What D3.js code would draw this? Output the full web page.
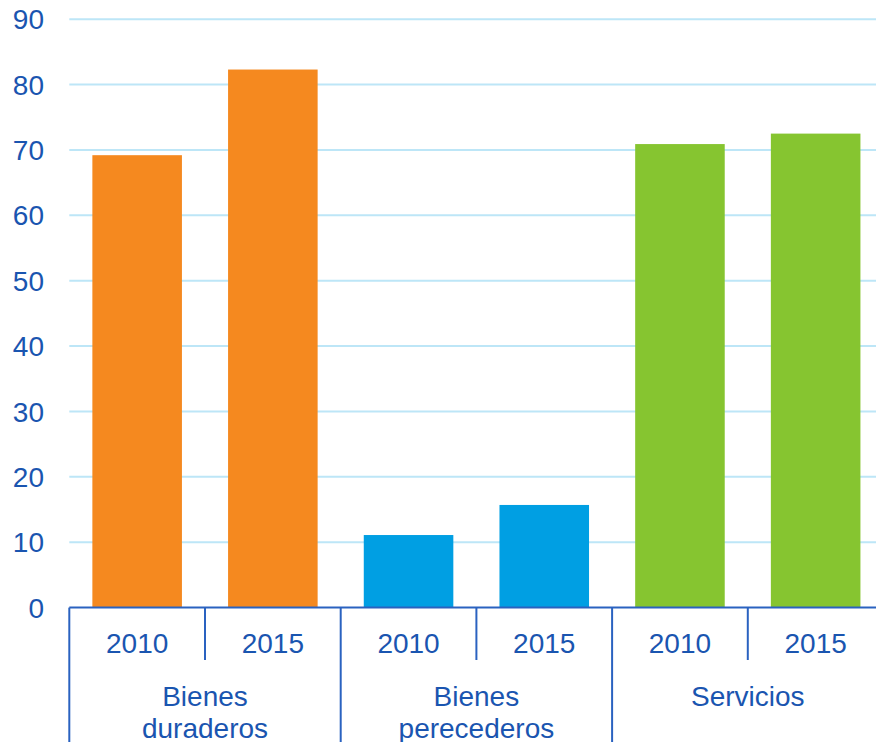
<!DOCTYPE html>
<html>
  <head>
    <meta http-equiv="Content-type" content="text/html; charset=utf-8"/>
    <title>Bar Chart</title>
    <script src="https://d3js.org/d3.v7.min.js"></script>
    <style>
      body{ margin:0; background:#fff; }
      svg{ display:block; font-family: "Liberation Sans", Arial, sans-serif; }
    </style>
  </head>
  <body>
    <svg width="876" height="742"></svg>
    <script>
      // ### Data ###
      var groups = [["Bienes", "duraderos"], ["Bienes", "perecederos"], ["Servicios"]];
      var years = ["2010", "2015"];
      var values = [[69.2, 82.3], [11.1, 15.7], [70.9, 72.5]];
      var colors = ["#f5891f", "#009fe3", "#86c530"];
      var yTicks = [0, 10, 20, 30, 40, 50, 60, 70, 80, 90];

      var svg = d3.select("svg"),
          textColor = "#1a55b0",
          axisColor = "#2a62c0",
          plotLeft = 69.3, plotRight = 883.5, plotTop = 19.2, plotBottom = 607.6;

      var x0 = d3.scaleBand().domain(d3.range(groups.length)).range([plotLeft, plotRight]);
      var x1 = d3.scaleBand().domain(years).range([0, x0.bandwidth()])
          .paddingInner(0.34).paddingOuter(0.17);
      var y = d3.scaleLinear().domain([0, 90]).range([plotBottom, plotTop]);

      // gridlines
      svg.append("g").selectAll("line")
        .data(yTicks.filter(function(d){ return d > 0; }))
        .join("line")
          .attr("x1", plotLeft).attr("x2", 876)
          .attr("y1", function(d){ return y(d); })
          .attr("y2", function(d){ return y(d); })
          .attr("stroke", "#bde6f7")
          .attr("stroke-width", 2);

      // y labels
      svg.append("g").selectAll("text")
        .data(yTicks)
        .join("text")
          .attr("x", 44)
          .attr("y", function(d){ return y(d); })
          .attr("dy", "0.36em")
          .attr("text-anchor", "end")
          .attr("fill", textColor)
          .attr("font-size", 28)
          .text(function(d){ return d; });

      // bars
      var gBars = svg.append("g").selectAll("g")
        .data(values)
        .join("g")
          .attr("transform", function(d, i){ return "translate(" + x0(i) + ",0)"; });

      gBars.selectAll("rect")
        .data(function(d, i){ return d.map(function(v, j){ return {v: v, year: years[j], c: colors[i]}; }); })
        .join("rect")
          .attr("x", function(d){ return x1(d.year); })
          .attr("width", x1.bandwidth())
          .attr("y", function(d){ return y(d.v); })
          .attr("height", function(d){ return y(0) - y(d.v); })
          .attr("fill", function(d){ return d.c; });

      // x axis
      var ax = svg.append("g");
      ax.append("line")
        .attr("x1", plotLeft).attr("x2", 876)
        .attr("y1", plotBottom).attr("y2", plotBottom)
        .attr("stroke", axisColor).attr("stroke-width", 2);

      // group separators (full height)
      ax.selectAll(".sep")
        .data(d3.range(groups.length + 1))
        .join("line")
          .attr("class", "sep")
          .attr("x1", function(i){ return plotLeft + i * x0.bandwidth(); })
          .attr("x2", function(i){ return plotLeft + i * x0.bandwidth(); })
          .attr("y1", plotBottom).attr("y2", 742)
          .attr("stroke", axisColor).attr("stroke-width", 2);

      // year separators (short)
      ax.selectAll(".ysep")
        .data(d3.range(groups.length))
        .join("line")
          .attr("class", "ysep")
          .attr("x1", function(i){ return x0(i) + x0.bandwidth() / 2; })
          .attr("x2", function(i){ return x0(i) + x0.bandwidth() / 2; })
          .attr("y1", plotBottom).attr("y2", 660)
          .attr("stroke", axisColor).attr("stroke-width", 2);

      // year labels
      gBars.selectAll(".yr")
        .data(years)
        .join("text")
          .attr("class", "yr")
          .attr("x", function(d){ return x1(d) + x1.bandwidth() / 2; })
          .attr("y", 653)
          .attr("text-anchor", "middle")
          .attr("fill", textColor)
          .attr("font-size", 28)
          .text(function(d){ return d; });

      // group labels
      gBars.append("text")
          .attr("x", x0.bandwidth() / 2)
          .attr("y", 706)
          .attr("text-anchor", "middle")
          .attr("fill", textColor)
          .attr("font-size", 28)
        .selectAll("tspan")
        .data(function(d, i){ return groups[i]; })
        .join("tspan")
          .attr("x", x0.bandwidth() / 2)
          .attr("dy", function(d, i){ return i ? 32 : 0; })
          .text(function(d){ return d; });
    </script>
  </body>
</html>
